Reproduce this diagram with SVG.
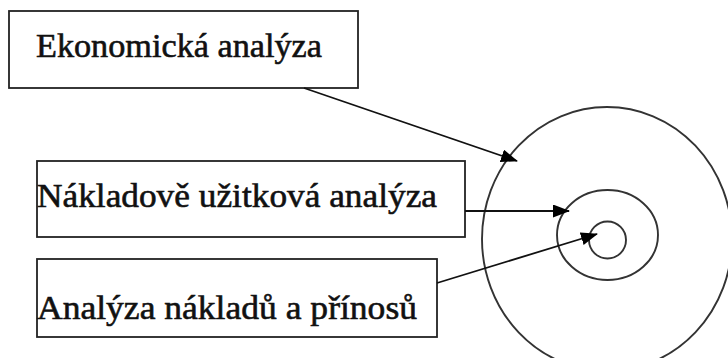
<svg xmlns="http://www.w3.org/2000/svg" width="728" height="358" viewBox="0 0 728 358">
  <style>
    .box { fill: #ffffff; stroke: #222222; stroke-width: 1.8; }
    .label { font-family: "Liberation Serif", "Times New Roman", serif; font-size: 34px; fill: #111111; stroke: #111111; stroke-width: 0.6; }
    .ring { fill: none; stroke: #333333; stroke-width: 1.9; }
    .link { stroke: #111111; stroke-width: 1.8; fill: none; marker-end: url(#head); }
  </style>
  <defs>
    <marker id="head" viewBox="0 0 17 13" refX="16" refY="6.5" markerWidth="17" markerHeight="13" markerUnits="userSpaceOnUse" orient="auto">
      <path d="M0,0 L17,6.5 L0,13 Z" fill="#000000"/>
    </marker>
  </defs>
  <rect width="728" height="358" fill="#ffffff"/>

  <!-- concentric rings -->
  <g id="rings">
    <ellipse class="ring" cx="607" cy="239" rx="125" ry="132"/>
    <ellipse class="ring" cx="607.5" cy="235" rx="50.5" ry="45"/>
    <circle class="ring" cx="607.5" cy="240" r="18.5"/>
  </g>

  <g id="node-ekonomicka">
    <rect class="box" x="9" y="11" width="349" height="77"/>
    <text class="label" x="36" y="57" textLength="286" lengthAdjust="spacingAndGlyphs">Ekonomická analýza</text>
  </g>

  <g id="node-nakladove-uzitkova">
    <rect class="box" x="37" y="161" width="428" height="76"/>
    <text class="label" x="37" y="207" textLength="400" lengthAdjust="spacingAndGlyphs">Nákladově užitková analýza</text>
  </g>

  <g id="node-naklady-prinosy">
    <rect class="box" x="37" y="259" width="400" height="78"/>
    <text class="label" x="37" y="319" textLength="380" lengthAdjust="spacingAndGlyphs">Analýza nákladů a přínosů</text>
  </g>

  <g id="connectors">
    <line class="link" x1="304" y1="88" x2="517" y2="161"/>
    <line class="link" x1="465" y1="211" x2="569" y2="211"/>
    <line class="link" x1="437" y1="283" x2="597" y2="234"/>
  </g>
</svg>
